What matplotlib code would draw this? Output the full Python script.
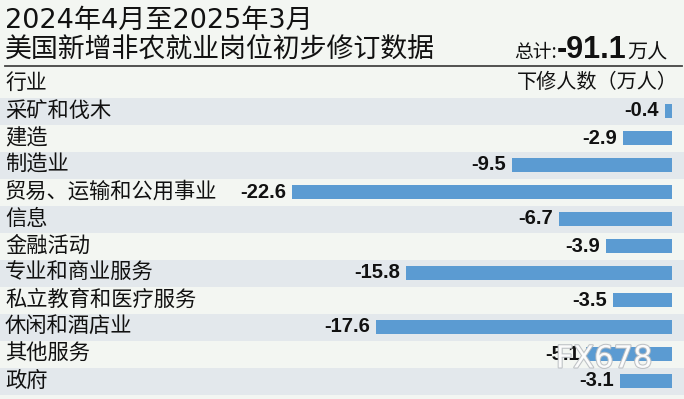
import matplotlib
matplotlib.use('Agg')
import matplotlib.pyplot as plt
import matplotlib.patheffects as pe

plt.rcParams['font.family'] = ['Noto Sans CJK SC', 'DejaVu Sans']

# 数据
industries = ['采矿和伐木', '建造', '制造业', '贸易、运输和公用事业', '信息', '金融活动',
              '专业和商业服务', '私立教育和医疗服务', '休闲和酒店业', '其他服务', '政府']
revisions = [-0.4, -2.9, -9.5, -22.6, -6.7, -3.9, -15.8, -3.5, -17.6, -5.1, -3.1]
total_text = '-91.1'

title_1 = '2024年4月至2025年3月'
title_2 = '美国新增非农就业岗位初步修订数据'

W, H = 684, 399
bg_light = '#f3f6f2'
bg_dark = '#e3e8ec'
bar_color = '#5b9bd2'
num_font = ['Liberation Sans', 'DejaVu Sans']


def fx(px):
    return px / W


def fy(px):
    return 1 - px / H


fig = plt.figure(figsize=(W / 100, H / 100), dpi=100, facecolor=bg_light)

# 表格区域：每行 27 像素
row_top, row_h = 97.5, 27.0
n = len(industries)
ax = fig.add_axes([0, fy(row_top + n * row_h), 1, n * row_h / H])
ax.set_facecolor(bg_light)
px_per_unit = 16.8
bar_end = 671.7
ax.set_xlim(-bar_end / px_per_unit, (W - bar_end) / px_per_unit)
ax.set_ylim(n - 0.5, -0.5)
ax.axis('off')

for i in range(n):
    if i % 2 == 0:
        ax.axhspan(i - 0.5, i + 0.5, color=bg_dark, lw=0, zorder=0)

y = list(range(n))
ax.barh(y, revisions, height=0.5, color=bar_color, zorder=2)

for i, (name, v) in enumerate(zip(industries, revisions)):
    ax.text(fx(5), i, name, transform=ax.get_yaxis_transform(),
            ha='left', va='center', fontsize=15.3, color='#111111')
    ax.annotate(f'{v:.1f}', xy=(v, i), xytext=(-6, 0), textcoords='offset pixels',
                ha='right', va='center', fontsize=14.5, fontweight='bold',
                family=num_font, color='#111111', zorder=3)

# 标题
fig.text(fx(5), fy(21), title_1, ha='left', va='center', fontsize=19.5,
         family=['DejaVu Sans', 'Noto Sans CJK SC'], color='#111111')
fig.text(fx(5), fy(49), title_2, ha='left', va='center', fontsize=19.4, color='#111111')

# 总计
base = fy(58)
fig.text(fx(668), base, '万人', ha='right', va='baseline', fontsize=14.5, color='#111111')
fig.text(fx(627), base, total_text, ha='right', va='baseline', fontsize=22,
         fontweight='bold', family=num_font, color='#111111')
fig.text(fx(557), base, '总计:', ha='right', va='baseline', fontsize=13.5, color='#111111')

# 分隔线
fig.add_artist(plt.Line2D([fx(5), fx(682)], [fy(65.7), fy(65.7)],
                          color='#444444', lw=1.3))

# 表头
fig.text(fx(5), fy(83), '行业', ha='left', va='center', fontsize=15, color='#111111')
fig.text(fx(678), fy(83), '下修人数（万人）', ha='right', va='center', fontsize=14.5,
         color='#111111')

# 水印
fig.text(fx(604), fy(359), 'FX678', ha='center', va='center', fontsize=22,
         color='white', family=['DejaVu Sans'], alpha=0.9,
         path_effects=[pe.withStroke(linewidth=1.5, foreground='#b8bcc0')])

fig.savefig('out.png', dpi=100, facecolor=bg_light)
